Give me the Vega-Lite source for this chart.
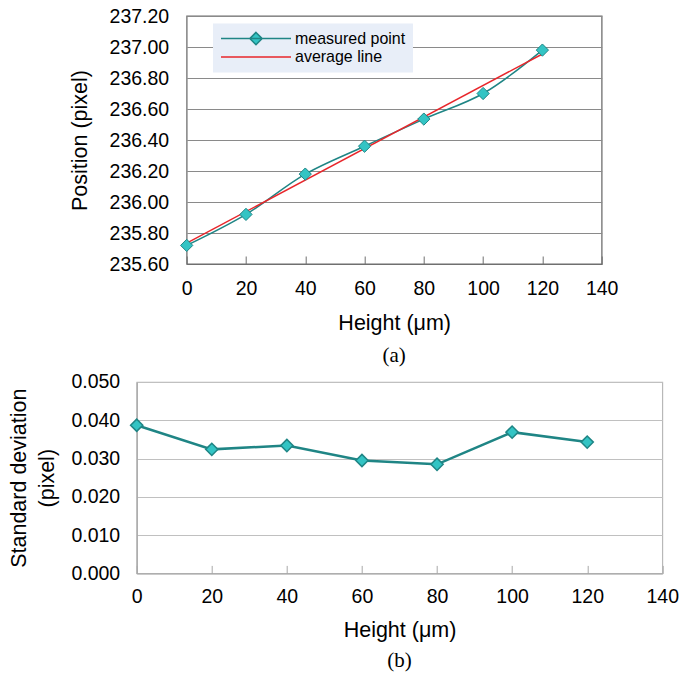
{
  "$schema": "https://vega.github.io/schema/vega-lite/v6.json",
  "padding": {"left": 6.7, "top": 5, "right": 5, "bottom": 5},
  "background": "white",
  "datasets": {
    "measured": [
      {"h": 0, "pos": 235.72, "series": "measured point"},
      {"h": 20, "pos": 235.92, "series": "measured point"},
      {"h": 40, "pos": 236.18, "series": "measured point"},
      {"h": 60, "pos": 236.36, "series": "measured point"},
      {"h": 80, "pos": 236.535, "series": "measured point"},
      {"h": 100, "pos": 236.70, "series": "measured point"},
      {"h": 120, "pos": 236.98, "series": "measured point"}
    ],
    "average": [
      {"h": 0, "pos": 235.735, "series": "average line"},
      {"h": 120, "pos": 236.955, "series": "average line"}
    ],
    "sd": [
      {"h": 0, "sd": 0.0387},
      {"h": 20, "sd": 0.0324},
      {"h": 40, "sd": 0.0334},
      {"h": 60, "sd": 0.0295},
      {"h": 80, "sd": 0.0285},
      {"h": 100, "sd": 0.0369},
      {"h": 120, "sd": 0.0343}
    ]
  },
  "spacing": 4,
  "resolve": {"legend": {"stroke": "independent"}},
  "vconcat": [
    {
      "spacing": 0,
      "resolve": {"legend": {"stroke": "independent"}},
      "hconcat": [
        {
          "width": 60.8,
          "height": 10,
          "view": {"stroke": null},
          "data": {"values": []},
          "mark": {"type": "point", "opacity": 0},
          "encoding": {}
        },
        {
          "width": 415,
          "height": 248,
          "view": {"stroke": "#6e6e6e", "strokeWidth": 1.3},
          "title": {"text": "(a)", "orient": "bottom", "font": "Liberation Serif", "fontSize": 21, "fontWeight": "normal", "color": "#000", "offset": 11, "anchor": "middle"},
          "encoding": {
            "x": {
              "field": "h", "type": "quantitative",
              "scale": {"domain": [0, 140], "nice": false},
              "axis": {"values": [0, 20, 40, 60, 80, 100, 120, 140], "title": "Height (μm)", "grid": false, "tickSize": -8, "tickColor": "#6e6e6e", "domainColor": "#6e6e6e", "labelPadding": 23, "labelFlush": false, "titlePadding": 15}
            },
            "y": {
              "field": "pos", "type": "quantitative",
              "scale": {"domain": [235.6, 237.2], "nice": false, "zero": false},
              "axis": {"values": [235.6, 235.8, 236.0, 236.2, 236.4, 236.6, 236.8, 237.0, 237.2], "format": ".2f", "title": "Position (pixel)", "ticks": false, "domain": false, "grid": true, "gridColor": "#8a8a8a", "gridWidth": 1.2, "labelPadding": 18, "labelFlush": false, "titlePadding": 18}
            }
          },
          "layer": [
            {
              "data": {"name": "measured"},
              "mark": {"type": "line", "interpolate": "catmull-rom", "strokeWidth": 1.5},
              "encoding": {
                "stroke": {
                  "field": "series", "type": "nominal",
                  "scale": {"domain": ["measured point", "average line"], "range": ["#1f8585", "#e8262b"]},
                  "legend": {
                    "title": null,
                    "orient": "none",
                    "legendX": 26.3,
                    "legendY": 7.6,
                    "fillColor": "#e8eef8",
                    "padding": 7,
                    "symbolSize": 144,
                    "symbolStrokeWidth": 1.5,
                    "symbolOffset": 28,
                    "labelFont": "Liberation Sans",
                    "labelFontSize": 16,
                    "labelColor": "#000",
                    "labelOffset": 31,
                    "rowPadding": 0.5,
                    "encode": {
                      "symbols": {
                        "update": {
                          "shape": {"signal": "datum.value === 'measured point' ? 'M-5.833,0H5.833M0,-1.033L1.033,0L0,1.033L-1.033,0Z' : 'M-5.833,0H5.833'"},
                          "fill": {"signal": "datum.value === 'measured point' ? '#33c4c4' : 'transparent'"},
                          "strokeWidth": {"value": 1.5},
                          "opacity": {"value": 1}
                        }
                      }
                    }
                  }
                }
              }
            },
            {
              "data": {"name": "average"},
              "mark": {"type": "line", "strokeWidth": 1.5},
              "encoding": {
                "stroke": {"field": "series", "type": "nominal"}
              }
            },
            {
              "data": {"name": "measured"},
              "mark": {"type": "point", "shape": "diamond", "size": 150, "filled": true, "fill": "#33c4c4", "stroke": "#1f8585", "strokeWidth": 1, "opacity": 1}
            }
          ]
        }
      ]
    },
    {
      "spacing": 0,
      "hconcat": [
        {
          "width": 1,
          "height": 10,
          "view": {"stroke": null},
          "data": {"values": []},
          "mark": {"type": "point", "opacity": 0},
          "encoding": {}
        },
        {
          "width": 525.6,
          "height": 191.4,
          "data": {"name": "sd"},
          "view": {"stroke": "#b8b8b8", "strokeWidth": 1.2},
          "title": {"text": "(b)", "orient": "bottom", "font": "Liberation Serif", "fontSize": 21, "fontWeight": "normal", "color": "#000", "offset": 9, "anchor": "middle"},
          "encoding": {
            "x": {
              "field": "h", "type": "quantitative",
              "scale": {"domain": [0, 140], "nice": false},
              "axis": {"values": [0, 20, 40, 60, 80, 100, 120, 140], "title": "Height (μm)", "grid": false, "tickSize": -8, "tickColor": "#a8a8a8", "domainColor": "#a8a8a8", "domainWidth": 1.3, "labelPadding": 22, "labelFlush": false, "titlePadding": 14}
            },
            "y": {
              "field": "sd", "type": "quantitative",
              "scale": {"domain": [0, 0.05], "nice": false},
              "axis": {"values": [0, 0.01, 0.02, 0.03, 0.04, 0.05], "format": ".3f", "title": ["Standard deviation", "(pixel)"], "titleLineHeight": 28, "ticks": false, "domain": true, "domainColor": "#a8a8a8", "domainWidth": 1.3, "grid": true, "gridColor": "#c0c0c0", "gridWidth": 1.2, "labelPadding": 17, "labelFlush": false, "titlePadding": 12}
            }
          },
          "layer": [
            {
              "mark": {"type": "line", "strokeWidth": 2.5, "color": "#1f8585"}
            },
            {
              "mark": {"type": "point", "shape": "diamond", "size": 150, "filled": true, "fill": "#33c4c4", "stroke": "#1f8585", "strokeWidth": 1.5, "opacity": 1}
            }
          ]
        }
      ]
    }
  ],
  "config": {
    "font": "Liberation Sans",
    "axis": {
      "labelFont": "Liberation Sans",
      "labelFontSize": 19.5,
      "labelColor": "#000",
      "titleFont": "Liberation Sans",
      "titleFontSize": 21.5,
      "titleFontWeight": "normal",
      "titleColor": "#000"
    }
  }
}
